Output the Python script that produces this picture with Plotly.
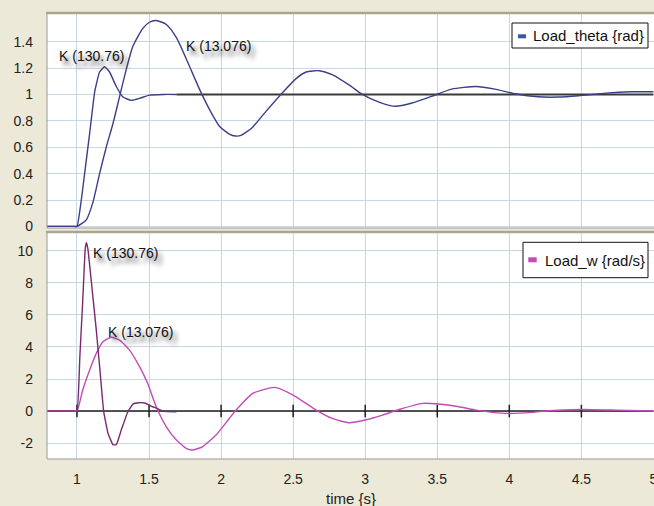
import plotly.graph_objects as go

# ---------------- data ----------------
theta_fast_t = [0.70, 0.98, 1.0, 1.03, 1.053, 1.088, 1.123, 1.157, 1.192, 1.226, 1.273, 1.319, 1.377, 1.434,
                1.503, 1.60, 1.69]
theta_fast_v = [0, 0, 0, 0.2, 0.40, 0.705, 1.02, 1.17, 1.21, 1.17, 1.06, 0.98, 0.955, 0.97,
                0.995, 1.0, 1.0]

theta_slow_t = [0.70, 0.98, 1.0, 1.065, 1.11, 1.157, 1.203, 1.25, 1.296, 1.342, 1.388, 1.457, 1.50, 1.55, 1.62,
                1.69, 1.77, 1.85, 1.92, 1.99, 2.057, 2.10, 2.138, 2.217, 2.31, 2.415, 2.52, 2.59, 2.68, 2.77,
                2.89, 2.98, 3.10, 3.21, 3.325, 3.46, 3.60, 3.77, 3.90, 4.04, 4.20, 4.34, 4.48, 4.67, 4.85, 5.0]
theta_slow_v = [0, 0, 0, 0.05, 0.18, 0.40, 0.60, 0.78, 0.985, 1.19, 1.365, 1.50, 1.545, 1.56, 1.53,
                1.43, 1.24, 1.04, 0.885, 0.757, 0.70, 0.685, 0.69, 0.75, 0.87, 1.0, 1.12, 1.17, 1.18, 1.15,
                1.07, 1.0, 0.94, 0.91, 0.935, 0.985, 1.04, 1.06, 1.04, 1.005, 0.982, 0.98, 0.99, 1.01, 1.02, 1.02]

theta_settle_t = [1.69, 5.0]
theta_settle_v = [1.0, 1.0]

w_fast_t = [0.70, 0.98, 1.0, 1.02, 1.04, 1.058, 1.066, 1.076, 1.105, 1.134, 1.16, 1.185, 1.215, 1.25,
            1.273, 1.307, 1.353, 1.39, 1.43, 1.47, 1.526, 1.596, 1.69]
w_fast_v = [0, 0, 0, 3.4, 6.9, 10.2, 10.5, 10.1, 7.6, 5.05, 2.5, 0, -1.38, -2.1,
            -2.1, -1.19, -0.04, 0.45, 0.52, 0.5, 0.27, 0.0, -0.05]

w_slow_t = [0.70, 0.98, 1.0, 1.04, 1.088, 1.134, 1.18, 1.238, 1.296, 1.365, 1.434, 1.49, 1.55, 1.62, 1.69,
            1.758, 1.80, 1.87, 1.965, 2.057, 2.10, 2.22, 2.37, 2.50, 2.66, 2.77, 2.89, 3.0, 3.12,
            3.235, 3.40, 3.51, 3.65, 3.77, 3.88, 4.0, 4.16, 4.27, 4.50, 4.74, 5.0]
w_slow_v = [0, 0, 0, 1.31, 2.56, 3.6, 4.32, 4.6, 4.43, 3.8, 2.77, 1.73, 0.27, -0.98, -1.81,
            -2.33, -2.43, -2.23, -1.5, -0.46, 0.02, 1.1, 1.48, 1.0, 0.06, -0.46, -0.73, -0.56, -0.25,
            0.1, 0.48, 0.44, 0.27, 0.06, -0.08, -0.15, -0.08, 0.02, 0.1, 0.06, 0.0]

zero_line_t = [1.0, 5.0]
zero_line_v = [0.0, 0.0]
zero_ticks_t = [1.0, 1.5, 2.0, 2.5, 3.0, 3.5, 4.0, 4.5]

x_ticks = [1, 1.5, 2, 2.5, 3, 3.5, 4, 4.5, 5]
x_ticklabels = ["1", "1.5", "2", "2.5", "3", "3.5", "4", "4.5", "5"]
theta_ticks = [0, 0.2, 0.4, 0.6, 0.8, 1, 1.2, 1.4]
theta_ticklabels = ["0", "0.2", "0.4", "0.6", "0.8", "1", "1.2", "1.4"]
w_ticks = [-2, 0, 2, 4, 6, 8, 10]
w_ticklabels = ["-2", "0", "2", "4", "6", "8", "10"]

label_fast = "K (130.76)"
label_slow = "K (13.076)"
legend_theta = "Load_theta {rad}"
legend_w = "Load_w {rad/s}"
x_title = "time {s}"

# ---------------- style ----------------
W, H = 654, 506
FONT = "Liberation Sans, Arial, sans-serif"
BG = "#ece9d8"
GRID = "#c9d8e6"
BLUE = "#3d3f86"
MAG = "#c24cb6"
DMAG = "#7a2a6c"


def px(x):
    return x / W


def py(y):
    return 1 - y / H


fig = go.Figure()

# top panel
fig.add_trace(go.Scatter(x=theta_settle_t, y=theta_settle_v, mode="lines",
                         line=dict(color="#3a3a3a", width=2), xaxis="x", yaxis="y", showlegend=False))
fig.add_trace(go.Scatter(x=theta_slow_t, y=theta_slow_v, mode="lines",
                         line=dict(color=BLUE, width=1.4, shape="spline", smoothing=0.6),
                         xaxis="x", yaxis="y", showlegend=False))
fig.add_trace(go.Scatter(x=theta_fast_t, y=theta_fast_v, mode="lines",
                         line=dict(color=BLUE, width=1.4, shape="spline", smoothing=0.4),
                         xaxis="x", yaxis="y", showlegend=False))

# bottom panel
fig.add_trace(go.Scatter(x=zero_line_t, y=zero_line_v, mode="lines",
                         line=dict(color="#1e1e1e", width=1.5), xaxis="x2", yaxis="y2", showlegend=False))
fig.add_trace(go.Scatter(x=zero_ticks_t, y=[0] * len(zero_ticks_t), mode="markers",
                         marker=dict(symbol="line-ns-open", size=9, color="#1e1e1e",
                                     line=dict(color="#1e1e1e", width=1.5)),
                         xaxis="x2", yaxis="y2", showlegend=False))
fig.add_trace(go.Scatter(x=w_slow_t, y=w_slow_v, mode="lines",
                         line=dict(color=MAG, width=1.4, shape="spline", smoothing=0.5),
                         xaxis="x2", yaxis="y2", showlegend=False))
fig.add_trace(go.Scatter(x=w_fast_t, y=w_fast_v, mode="lines",
                         line=dict(color=DMAG, width=1.4, shape="spline", smoothing=0.35),
                         xaxis="x2", yaxis="y2", showlegend=False))

xdom = [px(47), 1.0]
top_dom = [py(228), py(13)]
bot_dom = [py(459), py(232)]

axis_common = dict(showgrid=True, gridcolor=GRID, gridwidth=1, zeroline=False, showline=False,
                   ticks="", automargin=False, tickfont=dict(family=FONT, size=14, color="#222222"))

fig.update_layout(
    width=W, height=H,
    margin=dict(l=0, r=0, t=0, b=0, autoexpand=False),
    paper_bgcolor=BG, plot_bgcolor="white",
    showlegend=False,
    xaxis=dict(domain=xdom, anchor="y", range=[0.792, 5.004], tickvals=x_ticks,
               showticklabels=False, **axis_common),
    xaxis2=dict(domain=xdom, anchor="y2", range=[0.792, 5.004], matches="x", tickvals=x_ticks,
                ticktext=x_ticklabels, ticklabelstandoff=10, ticklabeloverflow="allow", **axis_common),
    yaxis=dict(domain=top_dom, anchor="x", range=[-0.012, 1.617], tickvals=theta_ticks,
               ticktext=theta_ticklabels, ticklabelstandoff=13, **axis_common),
    yaxis2=dict(domain=bot_dom, anchor="x2", range=[-2.99, 11.17], tickvals=w_ticks,
                ticktext=w_ticklabels, ticklabelstandoff=13, **axis_common),
)

shapes = []
# plot frames
for (t, b) in [(13, 228), (232, 459)]:
    shapes.append(dict(type="rect", xref="paper", yref="paper", x0=px(47), x1=px(655),
                       y0=py(b), y1=py(t), line=dict(color="#9a9a9a", width=1)))
    shapes.append(dict(type="line", xref="paper", yref="paper", x0=px(46), x1=px(655),
                       y0=py(t), y1=py(t), line=dict(color="#aaa68e", width=2.5)))
# legend boxes + swatches
shapes.append(dict(type="rect", xref="paper", yref="paper", x0=px(512), x1=px(648),
                   y0=py(48), y1=py(23), line=dict(color="#111111", width=1), fillcolor="white"))
shapes.append(dict(type="rect", xref="paper", yref="paper", x0=px(518), x1=px(526),
                   y0=py(38.3), y1=py(34.3), line=dict(width=0), fillcolor="#3a56a8"))
shapes.append(dict(type="rect", xref="paper", yref="paper", x0=px(523), x1=px(648),
                   y0=py(277.7), y1=py(242.3), line=dict(color="#111111", width=1), fillcolor="white"))
shapes.append(dict(type="rect", xref="paper", yref="paper", x0=px(528.3), x1=px(536.7),
                   y0=py(262.3), y1=py(257.3), line=dict(width=0), fillcolor="#c24cb6"))
fig.update_layout(shapes=shapes)

ann_font = dict(family=FONT, size=14, color="#111111", shadow="4px 5px 4px rgba(60,60,60,0.75)")
annotations = [
    dict(x=1.098, y=1.29, xref="x", yref="y", text=label_fast, showarrow=False, font=ann_font),
    dict(x=1.979, y=1.37, xref="x", yref="y", text=label_slow, showarrow=False, font=ann_font),
    dict(x=1.334, y=9.84, xref="x2", yref="y2", text=label_fast, showarrow=False, font=ann_font),
    dict(x=1.439, y=4.95, xref="x2", yref="y2", text=label_slow, showarrow=False, font=ann_font),
    dict(x=px(531), y=py(35.5), xref="paper", yref="paper", xanchor="left", yanchor="middle",
         text=legend_theta, showarrow=False, font=dict(family=FONT, size=15, color="#111111")),
    dict(x=px(542.5), y=py(260.5), xref="paper", yref="paper", xanchor="left", yanchor="middle",
         text=legend_w, showarrow=False, font=dict(family=FONT, size=15, color="#111111")),
    dict(x=px(351), y=py(498), xref="paper", yref="paper", xanchor="center", yanchor="middle",
         text=x_title, showarrow=False, font=dict(family=FONT, size=15, color="#222222")),
]
fig.update_layout(annotations=annotations)

fig.write_html("out.html")
